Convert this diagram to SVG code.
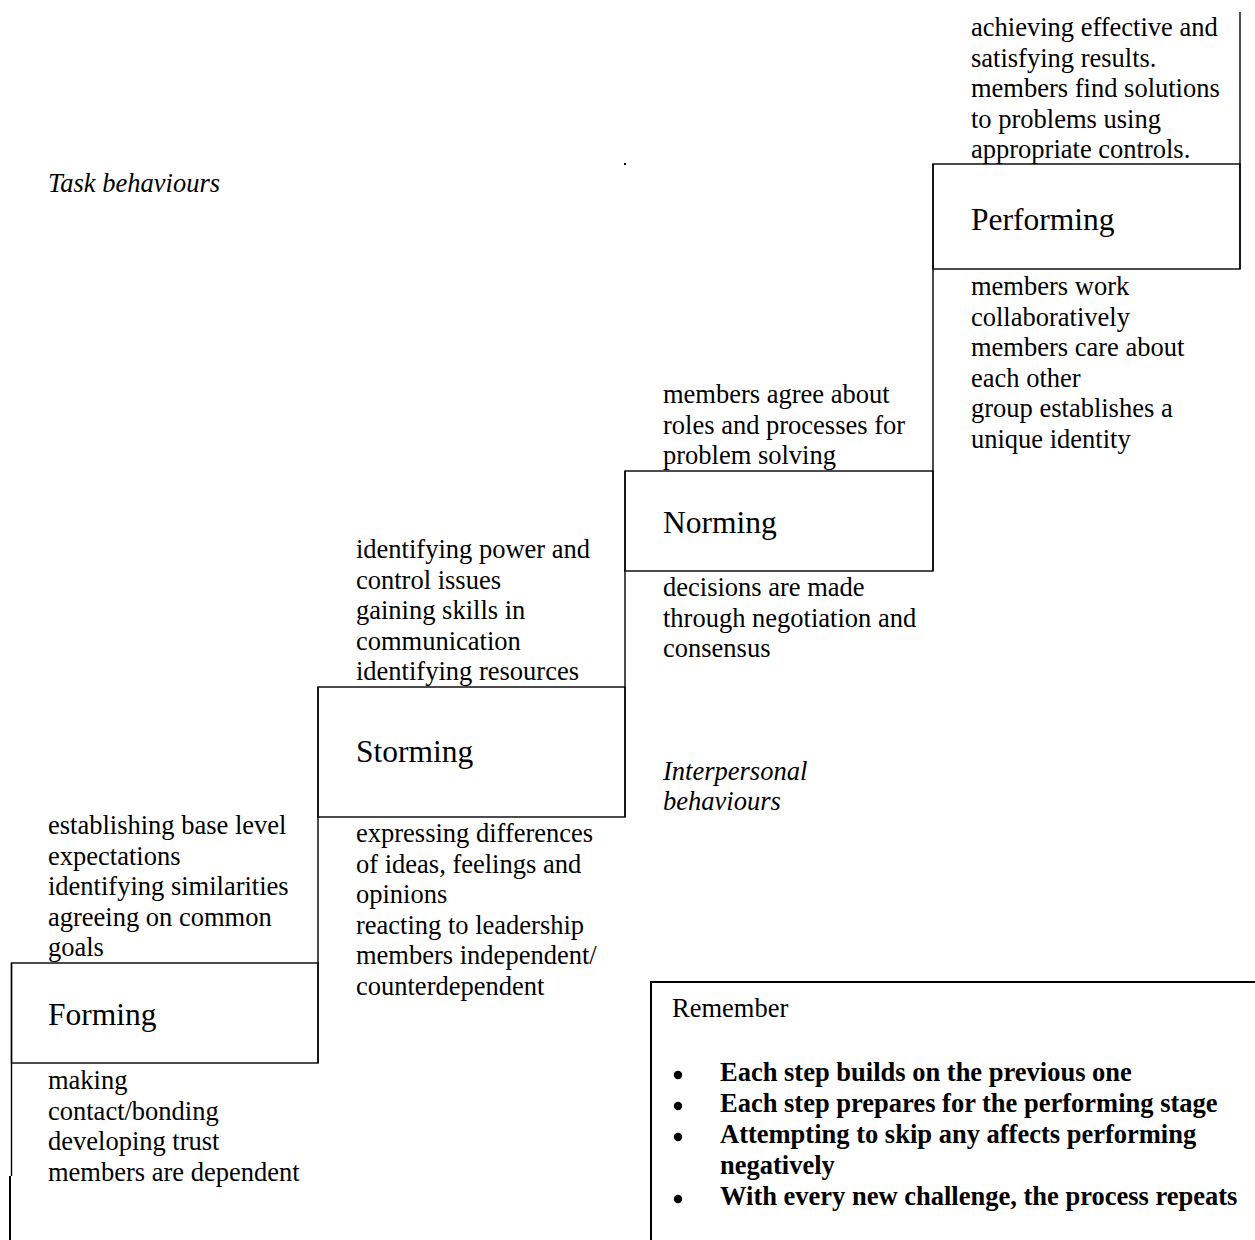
<svg xmlns="http://www.w3.org/2000/svg" width="1255" height="1240" viewBox="0 0 1255 1240">
<style>
  text { font-family: "Liberation Serif", "Times New Roman", serif; fill: #000; }
  .body { font-size: 26.5px; }
  .label { font-size: 31.5px; }
  .it { font-size: 26.5px; font-style: italic; }
  .bold { font-size: 26.5px; font-weight: bold; }
  .box { fill: none; stroke: #000; stroke-width: 1.4; }
  .ln { stroke: #000; stroke-width: 1.4; fill: none; }
</style>
<rect width="1255" height="1240" fill="#fff"/>

<g id="connectors">
  <line class="ln" x1="11.5" y1="963" x2="11.5" y2="1176"/>
  <line x1="10" y1="1176" x2="10" y2="1240" stroke="#000" stroke-width="2"/>
  <line class="ln" x1="318" y1="687" x2="318" y2="1063"/>
  <line class="ln" x1="625" y1="471" x2="625" y2="817"/>
  <line class="ln" x1="933" y1="164" x2="933" y2="571"/>
  <line class="ln" x1="1240" y1="12" x2="1240" y2="269"/>
  <rect x="624" y="163" width="2" height="2" fill="#000"/>
</g>

<g id="task-label">
  <text class="it" x="48" y="192">Task behaviours</text>
</g>
<g id="interpersonal-label">
  <text class="it" x="663" y="780">Interpersonal</text>
  <text class="it" x="663" y="810">behaviours</text>
</g>

<g id="forming">
  <rect class="box" x="11.5" y="963" width="306.5" height="100"/>
  <text class="label" x="48" y="1025">Forming</text>
  <text class="body" x="48" y="834">establishing base level</text>
  <text class="body" x="48" y="864.5">expectations</text>
  <text class="body" x="48" y="895">identifying similarities</text>
  <text class="body" x="48" y="925.5">agreeing on common</text>
  <text class="body" x="48" y="956">goals</text>
  <text class="body" x="48" y="1089">making</text>
  <text class="body" x="48" y="1119.5">contact/bonding</text>
  <text class="body" x="48" y="1150">developing trust</text>
  <text class="body" x="48" y="1180.5">members are dependent</text>
</g>

<g id="storming">
  <rect class="box" x="318" y="687" width="307" height="130"/>
  <text class="label" x="356" y="762">Storming</text>
  <text class="body" x="356" y="558">identifying power and</text>
  <text class="body" x="356" y="588.5">control issues</text>
  <text class="body" x="356" y="619">gaining skills in</text>
  <text class="body" x="356" y="649.5">communication</text>
  <text class="body" x="356" y="680">identifying resources</text>
  <text class="body" x="356" y="842">expressing differences</text>
  <text class="body" x="356" y="872.5">of ideas, feelings and</text>
  <text class="body" x="356" y="903">opinions</text>
  <text class="body" x="356" y="933.5">reacting to leadership</text>
  <text class="body" x="356" y="964">members independent/</text>
  <text class="body" x="356" y="994.5">counterdependent</text>
</g>

<g id="norming">
  <rect class="box" x="625" y="471" width="308" height="100"/>
  <text class="label" x="663" y="533">Norming</text>
  <text class="body" x="663" y="403">members agree about</text>
  <text class="body" x="663" y="433.5">roles and processes for</text>
  <text class="body" x="663" y="464">problem solving</text>
  <text class="body" x="663" y="596">decisions are made</text>
  <text class="body" x="663" y="626.5">through negotiation and</text>
  <text class="body" x="663" y="657">consensus</text>
</g>

<g id="performing">
  <rect class="box" x="933" y="164" width="307" height="105"/>
  <text class="label" x="971" y="230">Performing</text>
  <text class="body" x="971" y="36">achieving effective and</text>
  <text class="body" x="971" y="66.5">satisfying results.</text>
  <text class="body" x="971" y="97">members find solutions</text>
  <text class="body" x="971" y="127.5">to problems using</text>
  <text class="body" x="971" y="158">appropriate controls.</text>
  <text class="body" x="971" y="295">members work</text>
  <text class="body" x="971" y="325.5">collaboratively</text>
  <text class="body" x="971" y="356">members care about</text>
  <text class="body" x="971" y="386.5">each other</text>
  <text class="body" x="971" y="417">group establishes a</text>
  <text class="body" x="971" y="447.5">unique identity</text>
</g>

<g id="remember">
  <rect x="651" y="982" width="620" height="280" fill="none" stroke="#000" stroke-width="2"/>
  <text class="body" x="672" y="1017">Remember</text>
  <g class="bullets">
    <circle cx="678" cy="1075" r="4.2" fill="#000"/>
    <circle cx="678" cy="1106" r="4.2" fill="#000"/>
    <circle cx="678" cy="1137" r="4.2" fill="#000"/>
    <circle cx="678" cy="1199" r="4.2" fill="#000"/>
  </g>
  <text class="bold" x="720" y="1081">Each step builds on the previous one</text>
  <text class="bold" x="720" y="1112">Each step prepares for the performing stage</text>
  <text class="bold" x="720" y="1143">Attempting to skip any affects performing</text>
  <text class="bold" x="720" y="1174">negatively</text>
  <text class="bold" x="720" y="1205">With every new challenge, the process repeats</text>
</g>
</svg>
